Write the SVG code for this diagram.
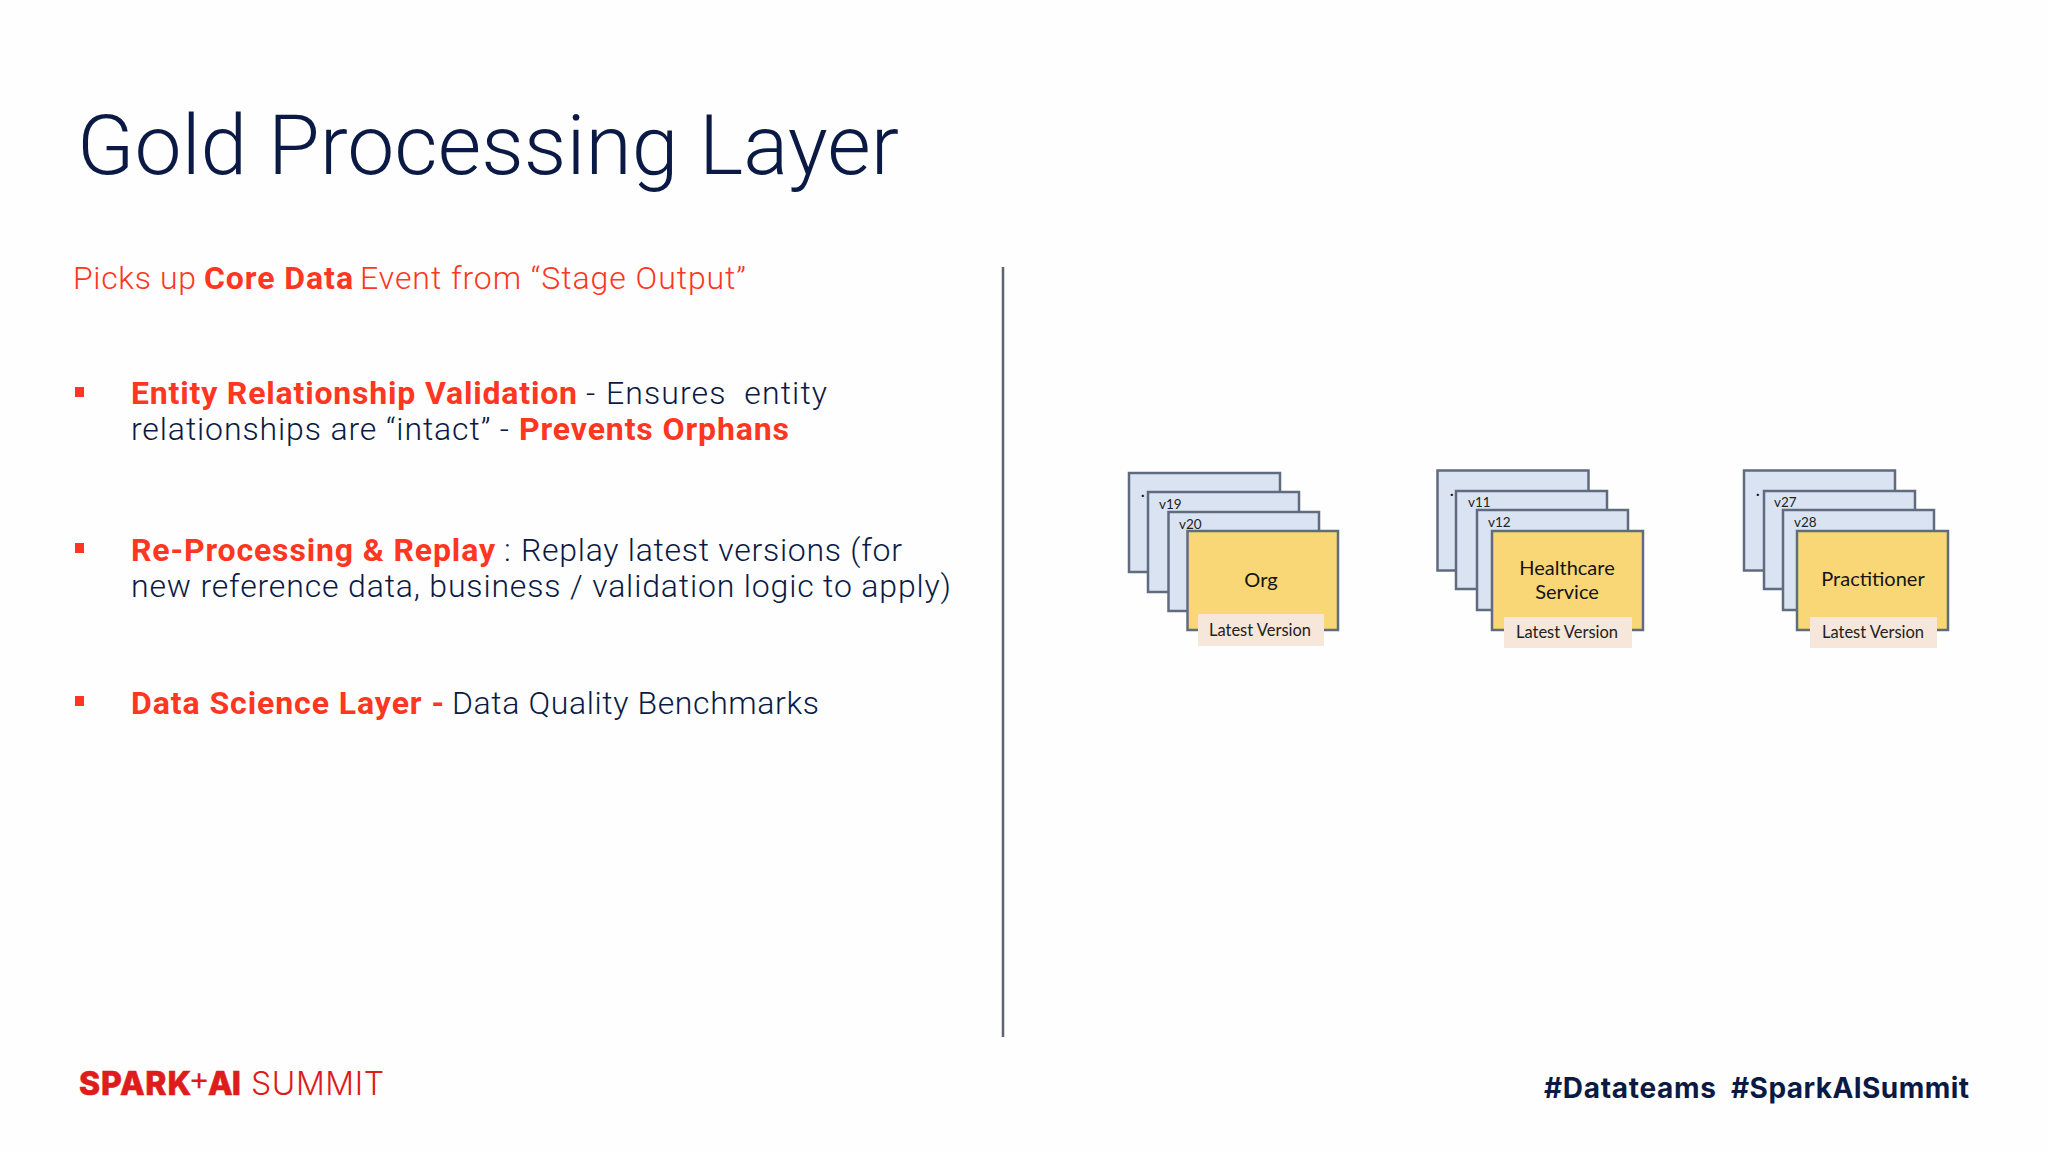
<svg xmlns="http://www.w3.org/2000/svg" width="2048" height="1152" viewBox="0 0 2048 1152">
<style>
text{font-family:"Roboto","Liberation Sans",sans-serif;white-space:pre}
.b{font-size:32px;fill:#0b1a44;font-weight:300}
.r{font-size:32px;fill:#ff3621;font-weight:700}
.l{font-size:32px;fill:#ff3621;font-weight:300}
.back{fill:#dae3f1;stroke:#5f6b7e;stroke-width:2.5}
.front{fill:#fad776;stroke:#5f6b7e;stroke-width:2.5}
.tag{fill:#f7e6da}
.n{font-family:"Lato","Liberation Sans",sans-serif;fill:#141414;text-anchor:middle;font-size:20px}
.t{font-family:"Lato","Liberation Sans",sans-serif;fill:#222;text-anchor:middle;font-size:16.500px}
.v{font-family:"Lato","Liberation Sans",sans-serif;fill:#222;font-size:13.500px}
.d{font-family:"Lato","Liberation Sans",sans-serif;fill:#111;font-size:15px;font-weight:700}
.bul{fill:#ff3621}
.logo{font-family:"Inter","Liberation Sans",sans-serif;fill:#dd1c1c;font-size:32px}
.hash{font-family:"Inter","Liberation Sans",sans-serif;fill:#0b1a44;font-size:28px;font-weight:700}
</style>
<rect width="2048" height="1152" fill="#fefefe"/>
<text x="77" y="174" font-size="84" font-weight="300" fill="#0b1a44" textLength="822">Gold Processing Layer</text>

<g id="intro">
<text class="l" x="73" y="289" textLength="123">Picks up</text>
<text class="r" x="204" y="289" textLength="149">Core Data</text>
<text class="l" x="360" y="289" textLength="386">Event from “Stage Output”</text>
</g>
<g id="bullet-1">
<rect class="bul" x="75" y="387" width="9" height="10"/>
<text class="r" x="131" y="404" textLength="446">Entity Relationship Validation</text>
<text class="b" x="586" y="404" textLength="12">-</text>
<text class="b" x="606" y="404" textLength="221">Ensures  entity</text>
<text class="b" x="131" y="440" textLength="378">relationships are “intact” -</text>
<text class="r" x="519" y="440" textLength="270">Prevents Orphans</text>
</g>
<g id="bullet-2">
<rect class="bul" x="75" y="543" width="9" height="10"/>
<text class="r" x="131" y="561" textLength="364">Re-Processing &amp; Replay</text>
<text class="b" x="504" y="561">:</text>
<text class="b" x="521" y="561" textLength="381">Replay latest versions (for</text>
<text class="b" x="131" y="597" textLength="820">new reference data, business / validation logic to apply)</text>
</g>
<g id="bullet-3">
<rect class="bul" x="75" y="696" width="9" height="10"/>
<text class="r" x="131" y="714" textLength="313">Data Science Layer -</text>
<text class="b" x="452" y="714" textLength="367">Data Quality Benchmarks</text>
</g>
<line id="divider" x1="1003" y1="267" x2="1003" y2="1037" stroke="#5f6470" stroke-width="2.500"/>

<g id="org">
<rect class="back" x="1129" y="473" width="151" height="99"/>
<text class="d" x="1141" y="497">.</text>
<rect class="back" x="1148" y="492" width="151" height="100"/>
<text class="v" x="1159" y="509">v19</text>
<rect class="back" x="1168.500" y="512" width="150.500" height="99"/>
<text class="v" x="1179" y="529">v20</text>
<rect class="front" x="1187.500" y="531" width="150.500" height="99"/>
<text class="n" x="1261" y="587">Org</text>
<rect class="tag" x="1198" y="614" width="126" height="32"/>
<text class="t" x="1260" y="636">Latest Version</text>
</g>
<g id="healthcare-service">
<rect class="back" x="1437.500" y="470.500" width="151" height="100"/>
<text class="d" x="1450" y="496">.</text>
<rect class="back" x="1456" y="491" width="151" height="98"/>
<text class="v" x="1468" y="507">v11</text>
<rect class="back" x="1477" y="510" width="151" height="100"/>
<text class="v" x="1488" y="527">v12</text>
<rect class="front" x="1492" y="531" width="151" height="99"/>
<text class="n" x="1567" y="575">Healthcare</text>
<text class="n" x="1567" y="599">Service</text>
<rect class="tag" x="1504" y="617" width="128" height="31"/>
<text class="t" x="1567" y="638">Latest Version</text>
</g>
<g id="practitioner">
<rect class="back" x="1744" y="470.500" width="151" height="100"/>
<text class="d" x="1756" y="496">.</text>
<rect class="back" x="1764" y="491" width="151" height="98"/>
<text class="v" x="1774" y="507">v27</text>
<rect class="back" x="1783" y="510" width="151" height="100"/>
<text class="v" x="1794" y="527">v28</text>
<rect class="front" x="1797" y="531" width="151" height="99"/>
<text class="n" x="1873" y="586">Practitioner</text>
<rect class="tag" x="1810" y="617" width="127" height="31"/>
<text class="t" x="1873" y="638">Latest Version</text>
</g>
<g id="connectors"/>

<g id="footer">
<text class="logo" x="79" y="1095" font-weight="800" textLength="112" stroke="#dd1c1c" stroke-width="0.600">SPARK</text>
<text class="logo" x="199" y="1090" font-size="18" font-weight="400" text-anchor="middle">+</text>
<text class="logo" x="208" y="1095" font-weight="800" textLength="33" stroke="#dd1c1c" stroke-width="0.600">AI</text>
<text class="logo" x="251" y="1095" font-weight="300" textLength="133">SUMMIT</text>
<text class="hash" x="1544" y="1098" textLength="172">#Datateams</text>
<text class="hash" x="1731" y="1098" textLength="238">#SparkAISummit</text>
</g>
</svg>
